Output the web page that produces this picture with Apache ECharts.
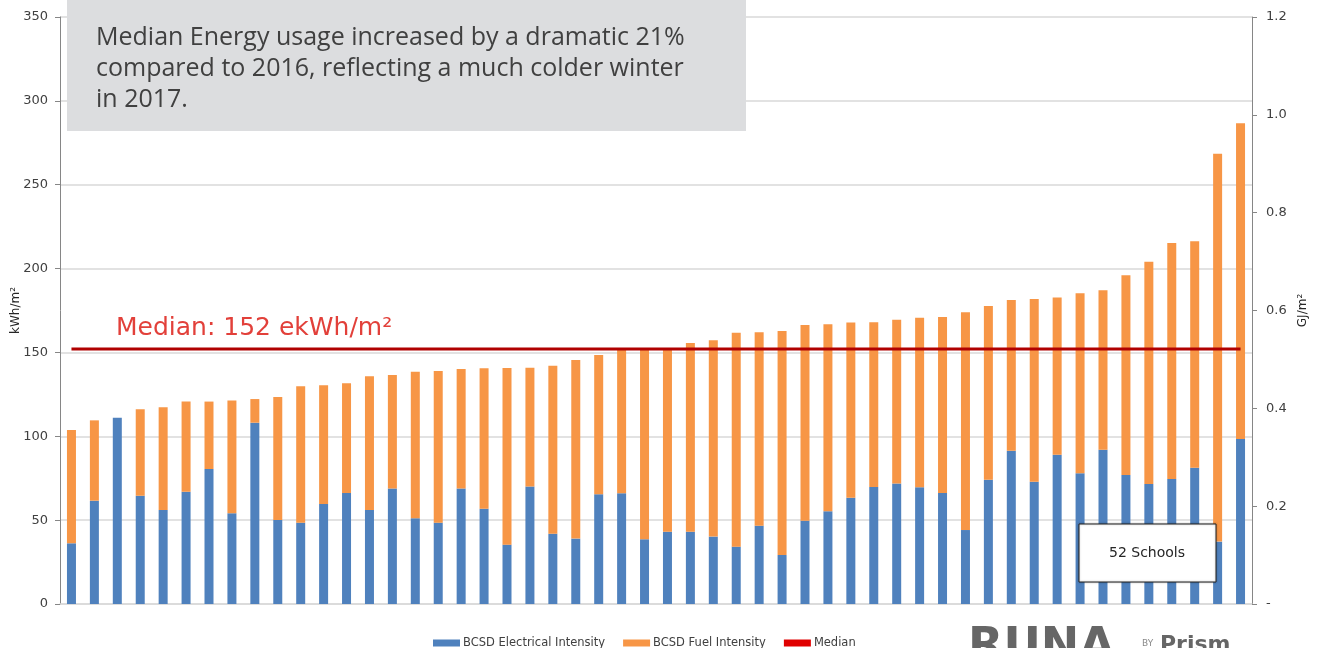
<!DOCTYPE html>
<html>
<head>
<meta charset="utf-8">
<script src="https://cdn.jsdelivr.net/npm/echarts@6/dist/echarts.min.js"></script>
<style>
  html, body { margin: 0; padding: 0; background: #fff; }
  #chart { width: 1317px; height: 648px; }
</style>
</head>
<body>
<div id="chart"></div>
<script>
// 52 schools, sorted by total intensity (kWh/m2)
const schools = Array.from({ length: 52 }, (_, i) => 'School ' + (i + 1));
const electrical = [36.2, 61.6, 111.1, 64.6, 56.1, 67.0, 80.5, 54.1, 108.1, 50.1,
  48.5, 59.6, 66.2, 56.1, 68.8, 51.1, 48.5, 68.8, 56.8, 35.4,
  70.0, 41.9, 39.0, 65.4, 66.0, 38.6, 43.1, 43.1, 40.2, 34.2,
  46.7, 29.2, 49.7, 55.3, 63.4, 69.8, 71.8, 69.6, 66.2, 44.1,
  74.1, 91.4, 72.9, 89.0, 77.9, 92.0, 76.9, 71.6, 74.5, 81.3,
  37.2, 98.4];
const fuel = [67.6, 47.9, 0, 51.5, 61.2, 53.7, 40.2, 67.3, 14.1, 73.3,
  81.3, 70.8, 65.4, 79.7, 67.8, 87.4, 90.4, 71.3, 83.7, 105.3,
  70.9, 100.2, 106.5, 83.1, 85.5, 113.4, 109.1, 112.5, 117.0, 127.6,
  115.3, 133.6, 116.7, 111.5, 104.4, 98.2, 97.7, 101.1, 104.9, 129.8,
  103.6, 89.9, 109.0, 93.7, 107.4, 95.0, 119.1, 132.5, 140.8, 135.0,
  231.3, 188.2];
const medianValue = 152;
const median = schools.map(() => medianValue);

const chart = echarts.init(document.getElementById('chart'));

const option = {
  animation: false,
  grid: { left: 60, right: 65, top: 17, bottom: 44, outerBoundsMode: 'none' },
  legend: {
    left: 428,
    top: 632,
    itemWidth: 27,
    itemHeight: 7,
    itemGap: 18,
    icon: 'rect',
    textStyle: { fontFamily: 'DejaVu Sans', fontSize: 11.5, color: '#404040', padding: [0, 0, 0, -2] },
    data: ['BCSD Electrical Intensity', 'BCSD Fuel Intensity', 'Median']
  },
  xAxis: {
    type: 'category',
    data: schools,
    axisLine: { show: true, lineStyle: { color: '#D9D9D9', width: 1.5 } },
    axisTick: { show: false },
    axisLabel: { show: false }
  },
  yAxis: [
    {
      type: 'value',
      min: 0, max: 350, interval: 50,
      name: 'kWh/m²',
      nameLocation: 'middle',
      nameGap: 38,
      nameRotate: 90,
      nameMoveOverlap: false,
      nameTextStyle: { fontFamily: 'DejaVu Sans', fontSize: 12, color: '#262626' },
      axisLine: { show: true, lineStyle: { color: '#868686' } },
      axisTick: { show: true, length: 5, lineStyle: { color: '#868686' } },
      axisLabel: { fontFamily: 'DejaVu Sans', fontSize: 13, color: '#404040', margin: 12 },
      splitLine: { lineStyle: { color: '#D9D9D9', width: 1.5 } }
    },
    {
      type: 'value',
      min: 0, max: 1.2, interval: 0.2,
      position: 'right',
      name: 'GJ/m²',
      nameLocation: 'middle',
      nameGap: 45,
      nameRotate: 90,
      nameMoveOverlap: false,
      nameTextStyle: { fontFamily: 'DejaVu Sans', fontSize: 12, color: '#262626' },
      axisLine: { show: true, lineStyle: { color: '#868686' } },
      axisTick: { show: true, length: 5, lineStyle: { color: '#868686' } },
      axisLabel: {
        fontFamily: 'DejaVu Sans', fontSize: 13, color: '#404040', margin: 14,
        formatter: v => (v === 0 ? '-' : v.toFixed(1))
      },
      splitLine: { show: false }
    }
  ],
  series: [
    {
      name: 'BCSD Electrical Intensity',
      type: 'bar',
      stack: 'total',
      barWidth: 9,
      itemStyle: { color: '#4F81BD' },
      data: electrical
    },
    {
      name: 'BCSD Fuel Intensity',
      type: 'bar',
      stack: 'total',
      barWidth: 9,
      itemStyle: { color: '#F79646' },
      data: fuel
    },
    {
      name: 'Median',
      type: 'line',
      symbol: 'none',
      z: 5,
      lineStyle: { color: '#B00000', width: 3 },
      itemStyle: { color: '#E00000' },
      data: median
    }
  ],
  graphic: [
    {
      type: 'rect',
      z: 100,
      shape: { x: 67, y: 0, width: 679, height: 131 },
      style: { fill: '#DCDDDF' }
    },
    {
      type: 'text',
      z: 101,
      x: 96, y: 22,
      style: {
        text: 'Median Energy usage increased by a dramatic 21%\ncompared to 2016, reflecting a much colder winter\nin 2017.',
        font: '25px "Open Sans"',
        fill: '#404040',
        lineHeight: 31
      }
    },
    {
      type: 'text',
      z: 101,
      x: 116, y: 316,
      style: {
        text: 'Median: 152 ekWh/m²',
        font: '25px "DejaVu Sans"',
        fill: '#E2403A'
      }
    },
    {
      type: 'rect',
      z: 100,
      shape: { x: 1079, y: 524, width: 137, height: 58 },
      style: { fill: '#FFFFFF', stroke: '#262626', lineWidth: 1, shadowBlur: 2, shadowColor: 'rgba(0,0,0,0.3)' }
    },
    {
      type: 'text',
      z: 101,
      x: 1147, y: 553,
      style: {
        text: '52 Schools',
        font: '14px "DejaVu Sans"',
        fill: '#262626',
        align: 'center',
        verticalAlign: 'middle'
      }
    },
    {
      type: 'text',
      z: 101,
      x: 968, y: 625,
      style: { text: 'RUNA', font: 'bold 46px "DejaVu Sans"', fill: '#666666' }
    },
    {
      type: 'text',
      z: 101,
      x: 1142, y: 639,
      style: { text: 'BY', font: '9px "DejaVu Sans"', fill: '#8A8A8A' }
    },
    {
      type: 'text',
      z: 101,
      x: 1160, y: 634,
      style: { text: 'Prism', font: 'bold 22px "DejaVu Sans"', fill: '#666666' }
    }
  ]
};

chart.setOption(option);
</script>
</body>
</html>
